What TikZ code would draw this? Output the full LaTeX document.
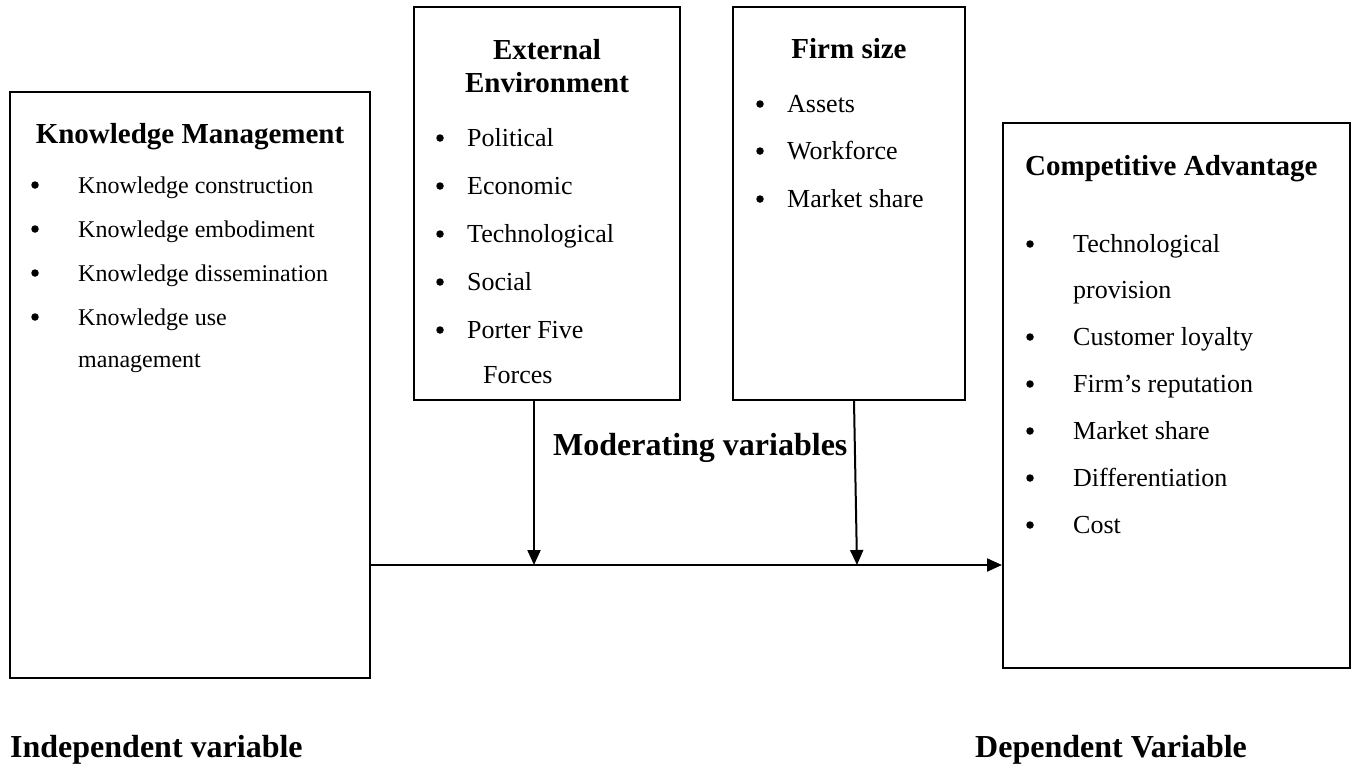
\documentclass[tikz,border=0pt]{standalone}
\usepackage{fontspec}
\setmainfont{Liberation Serif}
\usetikzlibrary{arrows.meta}
\begin{document}
\begin{tikzpicture}[x=1pt,y=-1pt,
  box/.style={draw,line width=2pt,inner sep=0pt},
  head/.style={font=\fontsize{29}{30}\selectfont\bfseries,inner sep=0pt,anchor=base},
  label/.style={font=\fontsize{32}{34}\selectfont\bfseries,inner sep=0pt,anchor=base west},
  item/.style={font=\fontsize{26}{28}\selectfont,inner sep=0pt,anchor=base west},
  kitem/.style={font=\fontsize{24}{26}\selectfont,inner sep=0pt,anchor=base west},
  bul/.style={circle,fill=black,inner sep=0pt,minimum size=7.5pt,yshift=8pt},
  arr/.style={line width=2pt,-{Triangle[length=15pt,width=13pt]}}]
\useasboundingbox (0,0) rectangle (1354,764);
% boxes
\node[box,minimum width=360pt,minimum height=586pt] (km) at (190,385) {};
\node[box,minimum width=266pt,minimum height=393pt] (ext) at (547,203.5) {};
\node[box,minimum width=232pt,minimum height=393pt] (firm) at (849,203.5) {};
\node[box,minimum width=347pt,minimum height=545pt] (ca) at (1176.5,395.5) {};
% Knowledge Management
\node[head] (kmh) at (190,143) {Knowledge Management};
\node[bul] (kb1) at (35,193) {};
\node[kitem] (k1) at (78,193) {Knowledge construction};
\node[bul] (kb2) at (35,237) {};
\node[kitem] (k2) at (78,237) {Knowledge embodiment};
\node[bul] (kb3) at (35,281) {};
\node[kitem] (k3) at (78,281) {Knowledge dissemination};
\node[bul] (kb4) at (35,325) {};
\node[kitem] (k4) at (78,325) {Knowledge use};
\node[kitem] (k5) at (78,367) {management};
% External Environment
\node[head] (exh1) at (547,59) {External};
\node[head] (exh2) at (547,92) {Environment};
\node[bul] (eb1) at (440,146) {};
\node[item] (e1) at (467,146) {Political};
\node[bul] (eb2) at (440,194) {};
\node[item] (e2) at (467,194) {Economic};
\node[bul] (eb3) at (440,242) {};
\node[item] (e3) at (467,242) {Technological};
\node[bul] (eb4) at (440,290) {};
\node[item] (e4) at (467,290) {Social};
\node[bul] (eb5) at (440,338) {};
\node[item] (e5) at (467,338) {Porter Five};
\node[item] (e6) at (483,383) {Forces};
% Firm size
\node[head] (fh) at (849,58) {Firm size};
\node[bul] (fb1) at (760,112) {};
\node[item] (f1) at (787,112) {Assets};
\node[bul] (fb2) at (760,159) {};
\node[item] (f2) at (787,159) {Workforce};
\node[bul] (fb3) at (760,207) {};
\node[item] (f3) at (787,207) {Market share};
% Competitive Advantage
\node[head,anchor=base west] (cah) at (1025,175) {Competitive Advantage};
\node[bul] (cb1) at (1030,252) {};
\node[item] (c1) at (1073,252) {Technological};
\node[item] (c1b) at (1073,298) {provision};
\node[bul] (cb2) at (1030,345) {};
\node[item] (c2) at (1073,345) {Customer loyalty};
\node[bul] (cb3) at (1030,392) {};
\node[item] (c3) at (1073,392) {Firm’s reputation};
\node[bul] (cb4) at (1030,439) {};
\node[item] (c4) at (1073,439) {Market share};
\node[bul] (cb5) at (1030,486) {};
\node[item] (c5) at (1073,486) {Differentiation};
\node[bul] (cb6) at (1030,533) {};
\node[item] (c6) at (1073,533) {Cost};
% labels
\node[label] (mod) at (553,455) {Moderating variables};
\node[label] (ind) at (10,757) {Independent variable};
\node[label] (dep) at (975,757) {Dependent Variable};
% connectors
\coordinate (j1) at (534,565);
\coordinate (j2) at (857,565);
\draw[arr] (km.east |- j1) -- (ca.west |- j1);
\draw[arr] (j1 |- ext.south) -- (j1);
\draw[arr] ([xshift=-3pt]j2 |- firm.south) -- (j2);
\end{tikzpicture}
\end{document}
